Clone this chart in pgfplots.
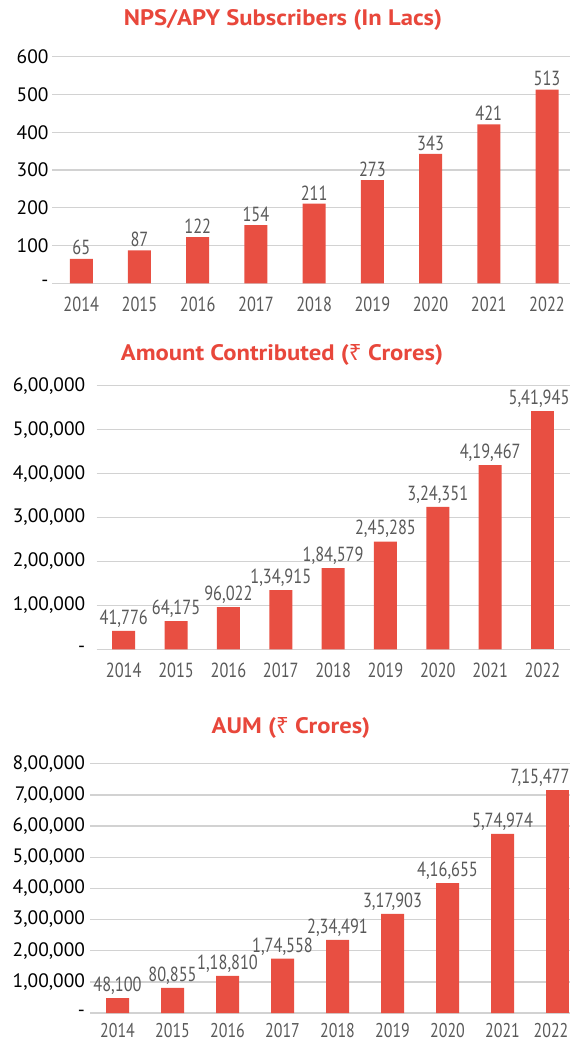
\documentclass[border=0pt]{standalone}
\usepackage{pgfplots}
\pgfplotsset{compat=1.18}
\usepackage{pgfplotstable}
\usepackage{fontspec}
\setmainfont{PT Sans}
\newfontfamily\condfont[FakeStretch=0.8]{PT Sans}
\newfontfamily\ttlfont[FakeStretch=1.1]{PT Sans}
\newfontfamily\rupeefont{Noto Sans}
\definecolor{barred}{HTML}{E84F42}
\definecolor{titlered}{HTML}{E8473B}
\definecolor{lblgray}{HTML}{595959}
\definecolor{gridc}{HTML}{D2D2D2}

% subscribers (in lacs)
\pgfplotstableread{
x y lab
0 65 65
1 87 87
2 122 122
3 154 154
4 211 211
5 273 273
6 343 343
7 421 421
8 513 513
}\subs

% amount contributed (crores)
\pgfplotstableread{
x y lab
0 41776 41,776
1 64175 64,175
2 96022 96,022
3 134915 1,34,915
4 184579 1,84,579
5 245285 2,45,285
6 324351 3,24,351
7 419467 4,19,467
}\contrib
\pgfplotstableread{
x y lab
8 541945 5,41,945
}\contriblast

% AUM (crores), last year kept apart so its label can sit inside the frame
\pgfplotstableread{
x y lab
0 48100 48,100
1 80855 80,855
2 118810 1,18,810
3 174558 1,74,558
4 234491 2,34,491
5 317903 3,17,903
6 416655 4,16,655
7 574974 5,74,974
}\aum
\pgfplotstableread{
x y lab
8 715477 7,15,477
}\aumlast

\pgfplotsset{
  npsbar/.style={
    scale only axis,
    ybar, bar width=23bp, bar shift=0pt,
    ymin=0, clip=false,
    scaled y ticks=false,
    ymajorgrids,
    major grid style={gridc, line width=1.3bp},
    axis line style={draw=none},
    major tick style={draw=none},
    xtick={0,...,8},
    xticklabels={2014,2015,2016,2017,2018,2019,2020,2021,2022},
    xticklabel style={text=lblgray, inner sep=1bp, yshift=-8.5bp,
      font=\condfont\fontsize{20.5}{22}\selectfont},
    yticklabel style={text=black, font=\fontsize{19.5}{21}\selectfont},
    nodes near coords,
    point meta=explicit symbolic,
    every node near coord/.append style={text=lblgray, anchor=south,
      font=\condfont\fontsize{20.5}{22}\selectfont},
  },
}
\tikzset{ttl/.style={text=titlered, font=\ttlfont\bfseries\fontsize{22.5}{25}\selectfont}}

\begin{document}
\begin{tikzpicture}

\node[ttl] at (283bp,-20bp) {NPS/APY Subscribers (In Lacs)};
\begin{axis}[npsbar,
  at={(52bp,-283.3bp)}, anchor=south west,
  width=518bp, height=226.6bp,
  xmin=-0.503, xmax=8.395,
  ymax=600, ytick={0,100,...,600},
  yticklabels={-,100,200,300,400,500,600},
]
\addplot[fill=barred, draw=none] table[x=x, y=y, meta=lab] {\subs};
\end{axis}

\node[ttl] at (282bp,-355bp) {Amount Contributed ({\rupeefont\bfseries ₹} Crores)};
\begin{axis}[npsbar,
  at={(96.7bp,-649.3bp)}, anchor=south west,
  width=473.3bp, height=263.6bp,
  xmin=-0.516, xmax=8.525,
  ymax=600000, ytick={0,100000,...,600000},
  yticklabels={-,{1,00,000},{2,00,000},{3,00,000},{4,00,000},{5,00,000},{6,00,000}},
  yticklabel style={xshift=-8bp},
]
\addplot[fill=barred, draw=none] table[x=x, y=y, meta=lab] {\contrib};
\addplot[fill=barred, draw=none,
  every node near coord/.append style={xshift=-3.5bp}]
  table[x=x, y=y, meta=lab] {\contriblast};
\end{axis}

\node[ttl] at (291bp,-728bp) {AUM ({\rupeefont\bfseries ₹} Crores)};
\begin{axis}[npsbar,
  at={(90bp,-1013bp)}, anchor=south west,
  width=480bp, height=249.3bp,
  xmin=-0.5, xmax=8.227,
  ymax=800000, ytick={0,100000,...,800000},
  xticklabels={2014,2015,2016,2017,2018,2019,2020,2021,\hspace*{-13bp}2022},
  xticklabel style={yshift=4bp, font=\condfont\fontsize{20}{21}\selectfont},
  yticklabels={-,{1,00,000},{2,00,000},{3,00,000},{4,00,000},{5,00,000},{6,00,000},{7,00,000},{8,00,000}},
  yticklabel style={xshift=-1.5bp},
]
\addplot[fill=barred, draw=none] table[x=x, y=y, meta=lab] {\aum};
\addplot[fill=barred, draw=none,
  every node near coord/.append style={xshift=-17.5bp}]
  table[x=x, y=y, meta=lab] {\aumlast};
\end{axis}

\pgfresetboundingbox
\path[use as bounding box] (0bp,0bp) rectangle (570bp,-1044bp);
\end{tikzpicture}
\end{document}
